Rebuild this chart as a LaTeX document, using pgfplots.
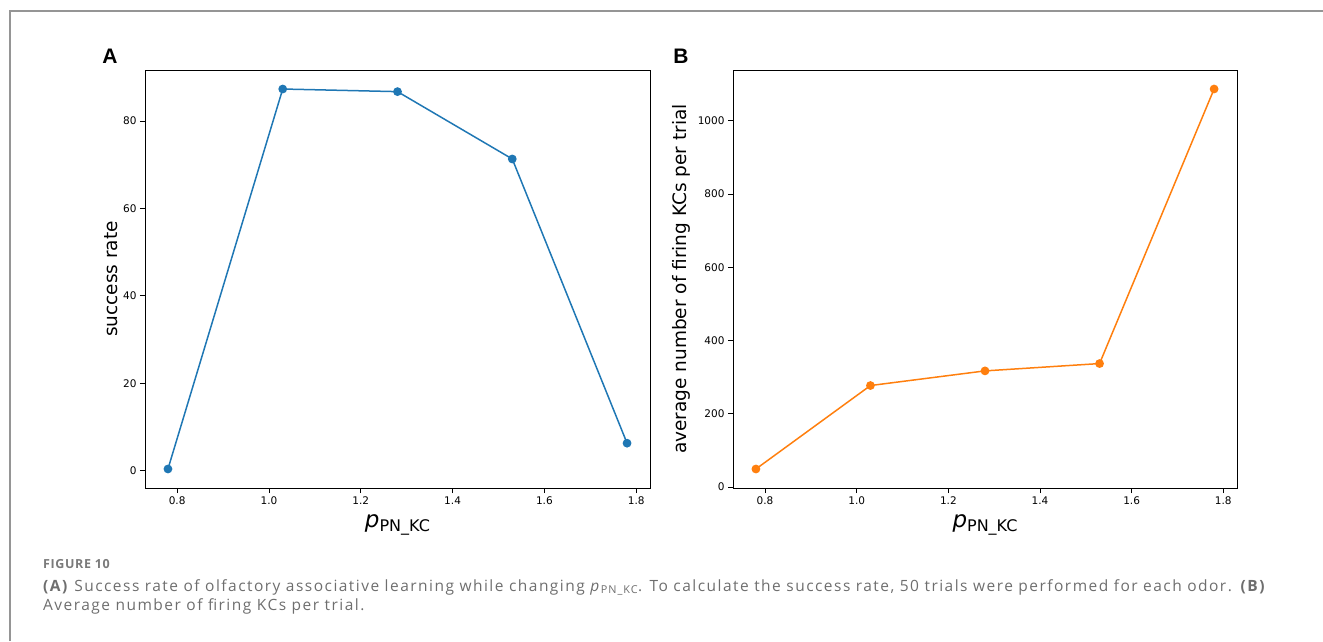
\documentclass[border=0pt]{standalone}
\usepackage{pgfplots}
\pgfplotsset{compat=1.18}
\usepackage{fontspec}
\setmainfont{DejaVu Sans}
\newfontfamily\capfont[LetterSpace=9.5]{Open Sans}
\newfontfamily\figfont[LetterSpace=5]{Open Sans}
\newfontfamily\panelfont{Liberation Sans}
\definecolor{tabblue}{HTML}{1F77B4}
\definecolor{taborange}{HTML}{FF7F0E}
\definecolor{capgray}{HTML}{6E6E6E}
\definecolor{figgray}{HTML}{7A7A7A}
\newcommand{\pxlabel}{{\fontsize{23}{26}\selectfont\textit{p}\raisebox{-0.2em}{\fontsize{16}{18}\selectfont PN\_KC}}}
\pgfplotsset{myaxis/.style={
  scale only axis, height=418pt,
  axis line style={black, line width=0.9pt},
  tick align=outside, major tick length=5pt,
  tick style={black, line width=0.8pt},
  xtick pos=lower, ytick pos=left,
  xtick={0.8,1.0,1.2,1.4,1.6,1.8},
  xticklabel style={font=\fontsize{10.5}{12}\selectfont, /pgf/number format/fixed, /pgf/number format/fixed zerofill, /pgf/number format/precision=1},
  yticklabel style={font=\fontsize{10.5}{12}\selectfont, /pgf/number format/1000 sep={}},
  /pgf/number format/assume math mode=true,
  scaled y ticks=false,
  xmin=0.73, xmax=1.83,
  xlabel={\pxlabel},
  every axis x label/.style={at={(axis description cs:0.5,-0.0933)}, anchor=base},
}}
\begin{document}
\begin{tikzpicture}[x=1pt,y=1pt]
\useasboundingbox (0,0) rectangle (1323,641);
\draw[figgray!80, line width=1.2pt] (10,0) -- (10,630) -- (1323,630);
\begin{axis}[myaxis, at={(145pt,153pt)}, anchor=south west, width=505pt,
  ymin=-3.95, ymax=91.65, ytick={0,20,40,60,80},
  ylabel={success rate},
  every axis y label/.style={at={(axis description cs:-0.0554,0.5)}, anchor=base, rotate=90, font=\fontsize{18.5}{22}\selectfont}]
\addplot[tabblue, line width=1.5pt, mark=*, mark size=3.6pt] coordinates {
(0.78,0.4) (1.03,87.3) (1.28,86.7) (1.53,71.3) (1.78,6.3)};
\end{axis}
\begin{axis}[myaxis, at={(733pt,153pt)}, anchor=south west, width=504pt,
  ymin=-2.9, ymax=1138.9, ytick={0,200,400,600,800,1000},
  ylabel={average number of firing KCs per trial},
  every axis y label/.style={at={(axis description cs:-0.0913,0.5)}, anchor=base, rotate=90, font=\fontsize{18.5}{22}\selectfont}]
\addplot[taborange, line width=1.5pt, mark=*, mark size=3.6pt] coordinates {
(0.78,49) (1.03,277) (1.28,317) (1.53,337) (1.78,1087)};
\end{axis}
\node[anchor=center, font=\panelfont\bfseries\fontsize{21}{24}\selectfont] at (110,585) {A};
\node[anchor=center, font=\panelfont\bfseries\fontsize{21}{24}\selectfont] at (681,585) {B};
\node[anchor=base west, inner sep=0pt, text=figgray, font=\figfont\bfseries\fontsize{12.5}{14}\selectfont] at (43,72.7) {FIGURE 10};
\node[anchor=base west, inner sep=0pt, text=capgray, font=\capfont\fontsize{15.5}{18}\selectfont] at (43,50) {\textbf{(A)} Success rate of olfactory associative learning while changing \textit{p}\textsubscript{PN\_KC}. To calculate the success rate, 50 trials were performed for each odor. \textbf{(B)}};
\node[anchor=base west, inner sep=0pt, text=capgray, font=\capfont\fontsize{15.5}{18}\selectfont] at (43,31) {Average number of firing KCs per trial.};
\end{tikzpicture}
\end{document}
